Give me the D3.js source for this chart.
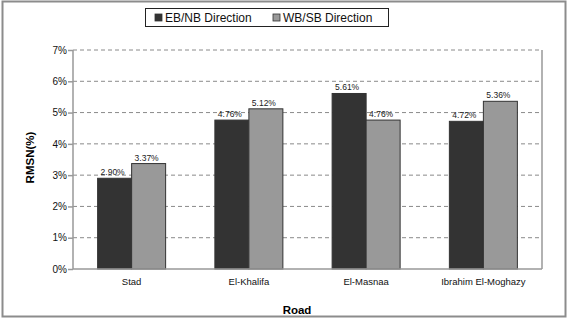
<!DOCTYPE html>
<html>
<head>
<meta charset="utf-8">
<script src="https://cdn.jsdelivr.net/npm/d3@7"></script>
<style>
body{margin:0;background:#fff}
text{font-family:"Liberation Sans",Arial,sans-serif}
</style>
</head>
<body>
<div id="chart"></div>
<script>
var roads = ["Stad","El-Khalifa","El-Masnaa","Ibrahim El-Moghazy"]
var seriesNames = ["EB/NB Direction","WB/SB Direction"]
var ebnb = [2.90,4.76,5.61,4.72]
var wbsb = [3.37,5.12,4.76,5.36]
var yTicks = [0,1,2,3,4,5,6,7]
var colors = ["#333333","#999999"]

var W=568,H=322
var m={left:73,right:26,top:50,bottom:53}
var pw=W-m.left-m.right, ph=H-m.top-m.bottom

var svg=d3.select("#chart").append("svg").attr("width",W).attr("height",H)

// outer frame
svg.append("rect").attr("x",2.5).attr("y",1.5).attr("width",563).attr("height",315)
	.attr("fill","#fff").attr("stroke","#8c8c8c").attr("stroke-width",2)

var x=d3.scaleBand().domain(roads).range([m.left,m.left+pw]).paddingInner(0.42).paddingOuter(0.21)
var xs=d3.scaleBand().domain([0,1]).range([0,x.bandwidth()])
var y=d3.scaleLinear().domain([0,7]).range([m.top+ph,m.top])

// gridlines
svg.append("g").selectAll("line").data(yTicks.slice(1)).enter().append("line")
	.attr("x1",m.left).attr("x2",m.left+pw)
	.attr("y1",function(d){return y(d)}).attr("y2",function(d){return y(d)})
	.attr("stroke","#8a8a8a").attr("stroke-dasharray","4,3").attr("stroke-width",1)

// right border of plot
svg.append("line").attr("x1",m.left+pw).attr("x2",m.left+pw).attr("y1",m.top).attr("y2",m.top+ph)
	.attr("stroke","#999").attr("stroke-width",1.5)

var data=[]
roads.forEach(function(r,i){
	data.push({road:r,s:0,v:ebnb[i]})
	data.push({road:r,s:1,v:wbsb[i]})
})

svg.append("g").selectAll("rect").data(data).enter().append("rect")
	.attr("x",function(d){return x(d.road)+xs(d.s)})
	.attr("width",xs.bandwidth())
	.attr("y",function(d){return y(d.v)})
	.attr("height",function(d){return y(0)-y(d.v)})
	.attr("fill",function(d){return colors[d.s]})
	.attr("stroke","#333").attr("stroke-width",1)

svg.append("g").selectAll("text").data(data).enter().append("text")
	.attr("x",function(d){return x(d.road)+xs(d.s)+xs.bandwidth()/2-2})
	.attr("y",function(d){return y(d.v)-3})
	.attr("text-anchor","middle").attr("font-size","8.5px").attr("fill","#222")
	.text(function(d){return d.v.toFixed(2)+"%"})

// axes
var yAxis=svg.append("g").attr("transform","translate("+m.left+",0)")
	.call(d3.axisLeft(y).tickValues(yTicks).tickSize(5).tickFormat(function(d){return d+"%"}))
yAxis.selectAll("path,line").attr("stroke","#999").attr("stroke-width",1.5)
yAxis.select(".domain").attr("d","M0,"+y(7)+"V"+y(0))
yAxis.selectAll("text").attr("font-size","10px").attr("fill","#111").attr("font-family","Liberation Sans, Arial").attr("x",-6)

var xAxis=svg.append("g").attr("transform","translate(0,"+(m.top+ph)+")")
	.call(d3.axisBottom(x).tickSize(0).tickPadding(9))
xAxis.select(".domain").attr("stroke","#999").attr("stroke-width",1.5).attr("d","M"+m.left+",0H"+(m.left+pw))
xAxis.selectAll("text").attr("font-size","9.5px").attr("fill","#111").attr("font-family","Liberation Sans, Arial")

svg.append("text").attr("x",297).attr("y",314).attr("text-anchor","middle")
	.attr("font-size","11.5px").attr("font-weight","bold").text("Road")
svg.append("text").attr("transform","translate(34,"+(m.top+ph/2-2)+") rotate(-90)")
	.attr("text-anchor","middle").attr("font-size","11.5px").attr("font-weight","bold").text("RMSN(%)")

// legend
var lg=svg.append("g")
lg.append("rect").attr("x",145.5).attr("y",8.5).attr("width",243).attr("height",18)
	.attr("fill","#fff").attr("stroke","#222").attr("stroke-width",1)
var lx=[155,273]
seriesNames.forEach(function(n,i){
	lg.append("rect").attr("x",lx[i]).attr("y",14).attr("width",7).attr("height",7)
		.attr("fill",colors[i]).attr("stroke","#333").attr("stroke-width",0.8)
	lg.append("text").attr("x",lx[i]+10).attr("y",22).attr("font-size","12px").attr("fill","#111").text(n)
})
</script>
</body>
</html>
